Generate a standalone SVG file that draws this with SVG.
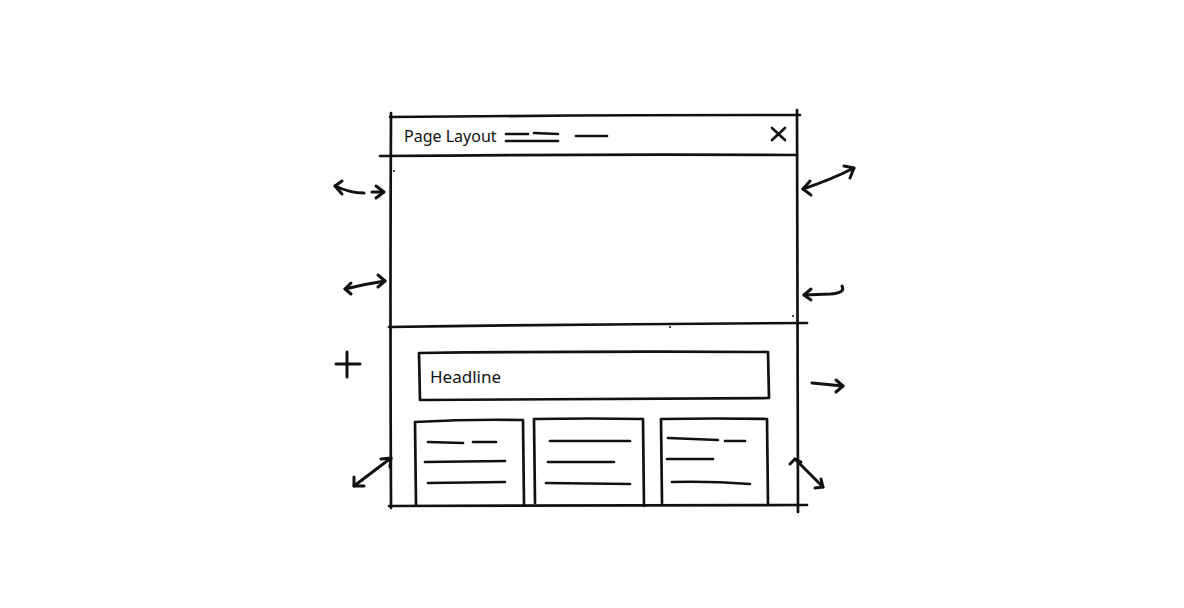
<svg xmlns="http://www.w3.org/2000/svg" width="1184" height="608" viewBox="0 0 1184 608">
<defs>
<style>
.s{fill:none;stroke:#111;stroke-width:2.7;stroke-linecap:round;stroke-linejoin:round}
.a{fill:none;stroke:#111;stroke-width:3;stroke-linecap:round;stroke-linejoin:round}
.t{font-family:"Noto Sans","DejaVu Sans",sans-serif;fill:#111}
</style>
</defs>
<rect width="1184" height="608" fill="#fff"/>
<g id="frame">
<path class="s" d="M391 113 Q390 300 391 508"/>
<path class="s" d="M797 110 Q798 300 798 512"/>
<path class="s" d="M390 117 Q600 115 800 115"/>
<path class="s" d="M380 156 Q600 154 797 155"/>
<path class="s" d="M389 327 Q600 324 807 323"/>
<path class="s" d="M389 506 Q600 506 807 505"/>
<circle cx="394" cy="171" r="1" fill="#111"/>
<circle cx="670" cy="327" r="1" fill="#111"/>
<circle cx="793" cy="316" r="1" fill="#111"/>
</g>
<g id="titlebar">
<text class="t" x="404" y="142" font-size="16">Page Layout</text>
<path class="s" d="M506 134 L528 134 M534 133 L558 134 M506 141 L558 141 M576 136 L607 136"/>
<path class="s" d="M772 128 L785 140 M785 128 L772 140"/>
</g>
<g id="headline">
<path class="s" d="M419 353 Q600 351 768 352 L769 398 Q600 399 420 400 Z"/>
<text class="t" x="430" y="383" font-size="17">Headline</text>
</g>
<g id="card1">
<path class="s" d="M416 505 L415 422 Q470 419 523 420 L524 505"/>
<path class="s" d="M428 442 L463 443 M473 442 L496 442 M425 462 L505 461 M428 483 L505 482"/>
</g>
<g id="card2">
<path class="s" d="M535 503 L534 419 Q590 418 643 419 L644 506"/>
<path class="s" d="M550 441 L630 441 M548 462 L614 462 M546 483 L630 484"/>
</g>
<g id="card3">
<path class="s" d="M662 503 L661 419 Q715 418 767 419 L768 505"/>
<path class="s" d="M668 438 Q695 439 718 440 M725 441 L745 441 M667 459 L713 459 M672 482 Q710 481 750 484"/>
</g>
<g id="connectors">
<path class="a" d="M335 186 Q350 193 364 193"/>
<path class="a" d="M342 181 L335 186 L342 194"/>
<path class="a" d="M372 192 L383 192"/>
<path class="a" d="M376 186 L384 192 L376 198"/>
<path class="a" d="M345 289 Q365 284 385 281"/>
<path class="a" d="M351 283 L345 289 L351 294"/>
<path class="a" d="M378 275 L385 281 L378 287"/>
<path class="a" d="M336 364 L360 364 M347 352 L347 377"/>
<path class="a" d="M354 486 L391 458"/>
<path class="a" d="M354 477 L354 486 L364 486"/>
<path class="a" d="M381 459 L391 458 L390 467"/>
<path class="a" d="M803 189 Q830 180 854 168"/>
<path class="a" d="M810 181 L803 189 L811 195"/>
<path class="a" d="M844 166 L854 168 L850 178"/>
<path class="a" d="M804 295 L830 294 Q846 293 842 286"/>
<path class="a" d="M811 289 L804 295 L811 300"/>
<path class="a" d="M812 383 L843 386"/>
<path class="a" d="M836 380 L843 386 L836 392"/>
<path class="a" d="M795 459 L823 487"/>
<path class="a" d="M790 464 L795 459 L801 462"/>
<path class="a" d="M815 488 L823 487 L821 479"/>
</g>
</svg>
